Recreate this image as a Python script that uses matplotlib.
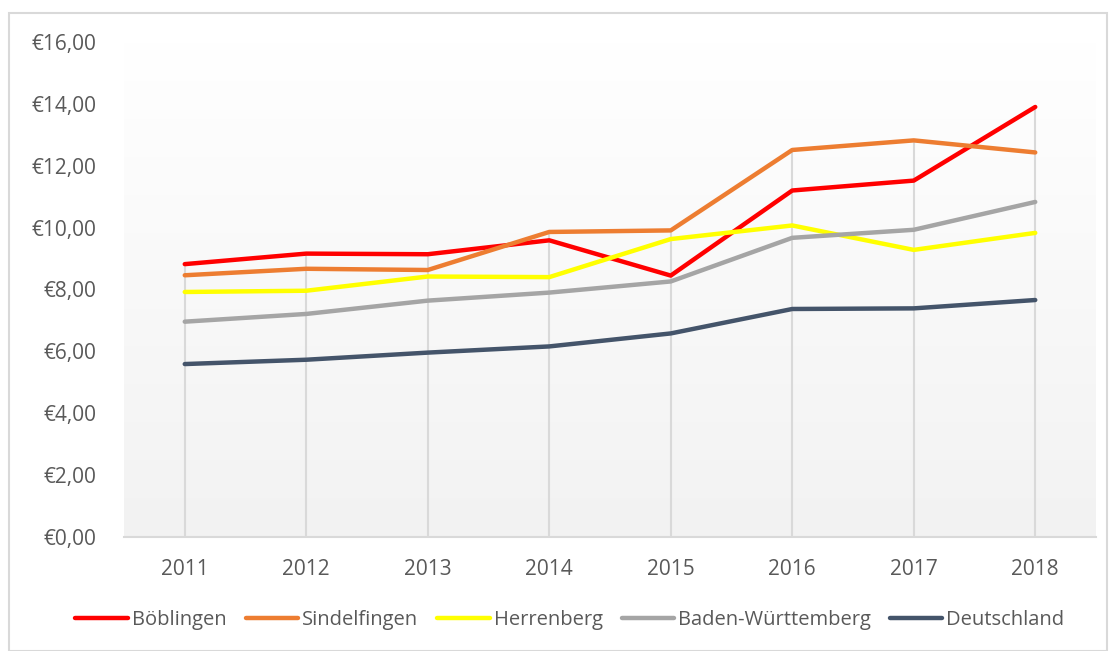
import numpy as np
import matplotlib.pyplot as plt
from matplotlib.patches import Rectangle
from matplotlib.colors import LinearSegmentedColormap
from matplotlib.ticker import FuncFormatter

years = ["2011", "2012", "2013", "2014", "2015", "2016", "2017", "2018"]
boeblingen = [8.82, 9.16, 9.14, 9.59, 8.45, 11.20, 11.52, 13.90]
sindelfingen = [8.46, 8.67, 8.63, 9.86, 9.91, 12.51, 12.82, 12.43]
herrenberg = [7.92, 7.96, 8.42, 8.40, 9.63, 10.07, 9.28, 9.83]
baden_wuerttemberg = [6.96, 7.21, 7.64, 7.90, 8.26, 9.67, 9.93, 10.83]
deutschland = [5.59, 5.73, 5.96, 6.16, 6.58, 7.37, 7.39, 7.66]

series = [
    ("Böblingen", boeblingen, "#FF0000"),
    ("Sindelfingen", sindelfingen, "#ED7D31"),
    ("Herrenberg", herrenberg, "#FFFF00"),
    ("Baden-Württemberg", baden_wuerttemberg, "#A5A5A5"),
    ("Deutschland", deutschland, "#44546A"),
]

plt.rcParams['font.family'] = ['Open Sans', 'DejaVu Sans']
text_color = "#595959"

fig = plt.figure(figsize=(11.13, 6.51), dpi=100)
ax = fig.add_axes([124 / 1113, 1 - 537 / 651, (1096 - 124) / 1113, (537 - 42) / 651])

x = np.arange(len(years))

# background gradient, white at top to light grey at bottom
grad = np.linspace(0, 1, 256).reshape(-1, 1)
bg = LinearSegmentedColormap.from_list("bg", ["#FFFFFF", "#F2F2F2"])
ax.imshow(grad, extent=(-0.5, 7.5, 0, 16), aspect='auto', origin='upper',
          cmap=bg, zorder=0)

# drop lines from highest value to axis
tops = np.max([s[1] for s in series], axis=0)
ax.vlines(x, 0, tops, color="#D9D9D9", lw=1.5, zorder=1)

for name, vals, col in series:
    ax.plot(x, vals, color=col, lw=3.2, label=name, solid_capstyle='round', zorder=3)

ax.set_xlim(-0.5, 7.5)
ax.set_ylim(0, 16)
ax.set_yticks(np.arange(0, 17, 2))
ax.yaxis.set_major_formatter(FuncFormatter(lambda v, p: "€%d,00" % v))
ax.set_xticks(x)
ax.set_xticklabels(years)
ax.tick_params(axis='both', length=0, labelsize=15, colors=text_color)
ax.tick_params(axis='y', pad=20)
ax.tick_params(axis='x', pad=16)

for side in ["top", "right", "left"]:
    ax.spines[side].set_visible(False)
ax.spines["bottom"].set_color("#D9D9D9")
ax.spines["bottom"].set_linewidth(1.5)

leg = fig.legend(loc='center', bbox_to_anchor=(570 / 1113, 1 - 620 / 651), ncol=5,
                 frameon=False, fontsize=14.5, handlelength=2.6,
                 handletextpad=0.2, columnspacing=0.95)
for t in leg.get_texts():
    t.set_color(text_color)

fig.patches.append(Rectangle((9 / 1113, 0), (1107 - 9) / 1113, 1 - 13 / 651,
                             transform=fig.transFigure, fill=False,
                             edgecolor="#D9D9D9", lw=1.5))

plt.savefig("out.png", dpi=100)
